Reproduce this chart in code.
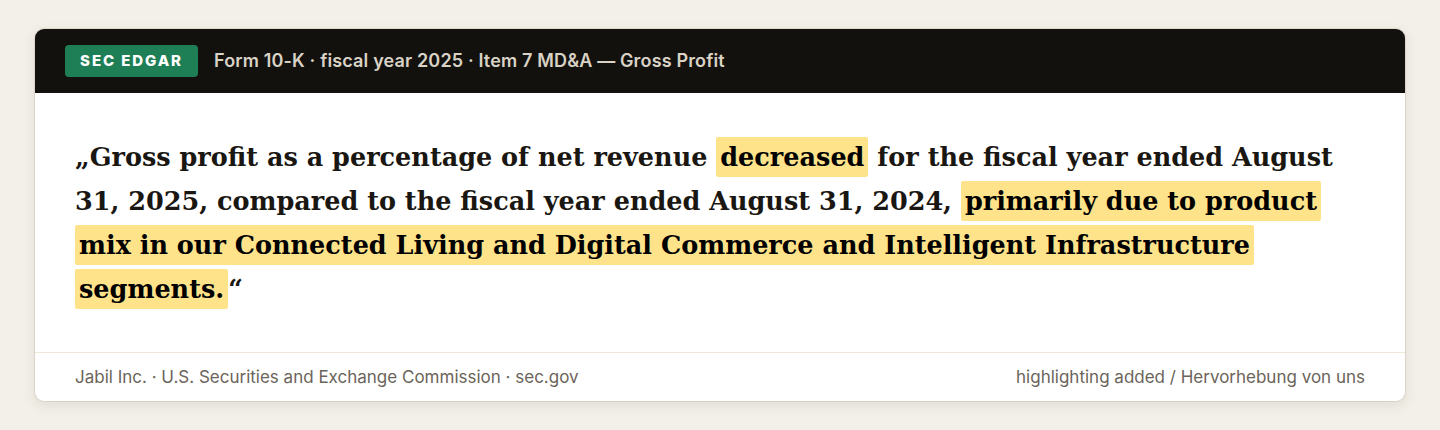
<!DOCTYPE html>
<html>
<head>
<meta charset="utf-8">
<script src="https://cdn.jsdelivr.net/npm/chart.js@4.4.1/dist/chart.umd.min.js"></script>
<style>
  html,body{margin:0;padding:0;}
  body{width:1440px;height:430px;background:#f3f0e9;position:relative;overflow:hidden;font-family:Inter,"Noto Sans",sans-serif;}
  .card{position:absolute;left:35px;top:29px;width:1370px;height:372px;background:#fff;border-radius:9px;overflow:hidden;
        box-shadow:0 4px 14px rgba(60,50,30,0.10),0 0 0 1px rgba(200,190,170,0.35);}
  .hdr{position:absolute;left:0;top:0;width:100%;height:64px;background:#13110e;}
  .badge{position:absolute;left:30px;top:16px;width:133px;height:32px;background:#1e7f57;border-radius:4px;color:#fff;
         font-weight:800;font-size:15px;letter-spacing:1.9px;line-height:32px;text-align:center;}
  .htxt{position:absolute;left:179px;top:0;line-height:64px;color:#d9d3c6;font-weight:600;font-size:18px;letter-spacing:0.15px;}
  .quote{position:absolute;left:40px;top:106px;font-family:"DejaVu Serif",serif;font-weight:700;font-size:25.5px;color:#1a1712;}
  .line{height:44px;line-height:44px;white-space:nowrap;}
  .hl{background:#fee38a;color:#000;padding:5px 4px;border-radius:2px;}
  .sep{position:absolute;left:0;top:323px;width:100%;height:1px;background:#efe7d8;}
  .foot{position:absolute;top:324px;line-height:48px;font-size:17px;color:#6b645a;}
</style>
</head>
<body>
<div class="card">
  <div class="hdr">
    <div class="badge" id="badge"></div>
    <div class="htxt" id="htxt"></div>
  </div>
  <div class="quote" id="quote"></div>
  <div class="sep"></div>
  <div class="foot" id="footL" style="left:40px"></div>
  <div class="foot" id="footR" style="right:40px"></div>
</div>
<script>
const badgeText = "SEC EDGAR";
const headerText = "Form 10-K · fiscal year 2025 · Item 7 MD&A — Gross Profit";
// quote lines: [text, highlighted?]
const line1 = [["„Gross profit as a percentage of net revenue ", false], ["decreased", true], [" for the fiscal year ended August", false]];
const line2 = [["31, 2025, compared to the fiscal year ended August 31, 2024, ", false], ["primarily due to product", true]];
const line3 = [["mix in our Connected Living and Digital Commerce and Intelligent Infrastructure", true]];
const line4 = [["segments.", true], ["“", false]];
const footerLeft = "Jabil Inc. · U.S. Securities and Exchange Commission · sec.gov";
const footerRight = "highlighting added / Hervorhebung von uns";

document.getElementById('badge').textContent = badgeText;
document.getElementById('htxt').textContent = headerText;
document.getElementById('footL').textContent = footerLeft;
document.getElementById('footR').textContent = footerRight;
const q = document.getElementById('quote');
[line1, line2, line3, line4].forEach(parts => {
  const d = document.createElement('div'); d.className = 'line';
  parts.forEach(([t, h]) => {
    const s = document.createElement('span');
    s.textContent = t;
    if (h) s.className = 'hl';
    d.appendChild(s);
  });
  q.appendChild(d);
});
</script>
</body>
</html>
